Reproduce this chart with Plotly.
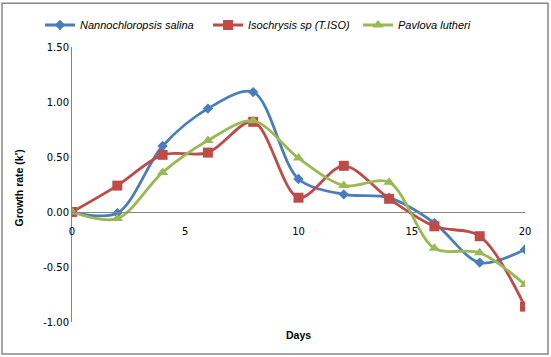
import plotly.graph_objects as go

days = [0, 2, 4, 6, 8, 10, 12, 14, 16, 18, 20]
nanno = [0.00, -0.01, 0.60, 0.94, 1.09, 0.30, 0.16, 0.13, -0.10, -0.46, -0.34]
iso = [0.00, 0.24, 0.52, 0.54, 0.82, 0.13, 0.42, 0.12, -0.13, -0.22, -0.86]
pav = [0.00, -0.06, 0.36, 0.65, 0.83, 0.49, 0.24, 0.27, -0.33, -0.37, -0.66]
names = ["Nannochloropsis salina", "Isochrysis sp (T.ISO)", "Pavlova lutheri"]
colors = ["#4A7EBB", "#BE4B48", "#98B954"]
symbols = ["diamond", "square", "triangle-up"]
msizes = [8, 10, 10]
yticks = [-1.0, -0.5, 0.0, 0.5, 1.0, 1.5]
xticks = [0, 5, 10, 15, 20]

L, R, T, B = 72, 26, 46, 35
W, H = 551, 357
pw, ph = W - L - R, H - T - B


def px(xp):
    return (xp - L) / pw


def py(yp):
    return (H - B - yp) / ph


legend_keys = ["legend", "legend2", "legend3"]
legend_x = [40, 208, 358]

fig = go.Figure()
for ys, n, c, s, ms, lk in zip([nanno, iso, pav], names, colors, symbols, msizes, legend_keys):
    fig.add_trace(go.Scatter(
        x=days, y=ys, name=n, mode="lines+markers", legend=lk,
        line=dict(color=c, width=2.8, shape="spline", smoothing=0.9),
        marker=dict(symbol=s, size=ms, color=c),
    ))

legend_common = dict(orientation="h", xanchor="left", yanchor="middle",
                     font=dict(family="Liberation Sans", size=11, style="italic", color="#000000"),
                     bgcolor="rgba(0,0,0,0)", itemwidth=30)

layout_legends = {}
for lk, lx in zip(legend_keys, legend_x):
    layout_legends[lk] = dict(legend_common, x=px(lx), y=py(25))

fig.update_layout(
    width=W, height=H,
    margin=dict(l=L, r=R, t=T, b=B),
    paper_bgcolor="white", plot_bgcolor="white",
    font=dict(family="DejaVu Sans", size=10, color="#000000"),
    showlegend=True,
    hovermode=False,
    xaxis=dict(range=[0, 20], tickvals=xticks, ticktext=[str(v) for v in xticks],
               showgrid=False, zeroline=False, showline=True, linecolor="#868686",
               linewidth=1, anchor="free", position=0.4, ticks="", ticklabelstandoff=10,
               tickfont=dict(family="DejaVu Sans", size=10)),
    yaxis=dict(range=[-1.0, 1.5], tickvals=yticks, ticktext=[f"{v:.2f}" for v in yticks],
               showgrid=False, zeroline=False, showline=True, linecolor="#868686",
               linewidth=1, ticks="", tickfont=dict(family="DejaVu Sans", size=10)),
    shapes=[dict(type="rect", xref="paper", yref="paper",
                 x0=px(2), x1=px(548), y0=py(354), y1=py(2),
                 line=dict(color="#868686", width=1.5), fillcolor="rgba(0,0,0,0)", layer="above")],
    annotations=[
        dict(text="<b>Days</b>", xref="paper", yref="paper", x=px(298), y=py(335),
             xanchor="center", yanchor="middle",
             showarrow=False, font=dict(family="Liberation Sans", size=10.5)),
        dict(text="<b>Growth rate (k')</b>", xref="paper", yref="paper", x=px(19), y=py(188),
             xanchor="center", yanchor="middle",
             showarrow=False, textangle=-90, font=dict(family="Liberation Sans", size=10.5)),
    ],
    **layout_legends,
)

fig.write_html("out.html", config={"displayModeBar": False},
               post_script="document.body.style.margin='0';document.body.style.overflow='hidden';")
